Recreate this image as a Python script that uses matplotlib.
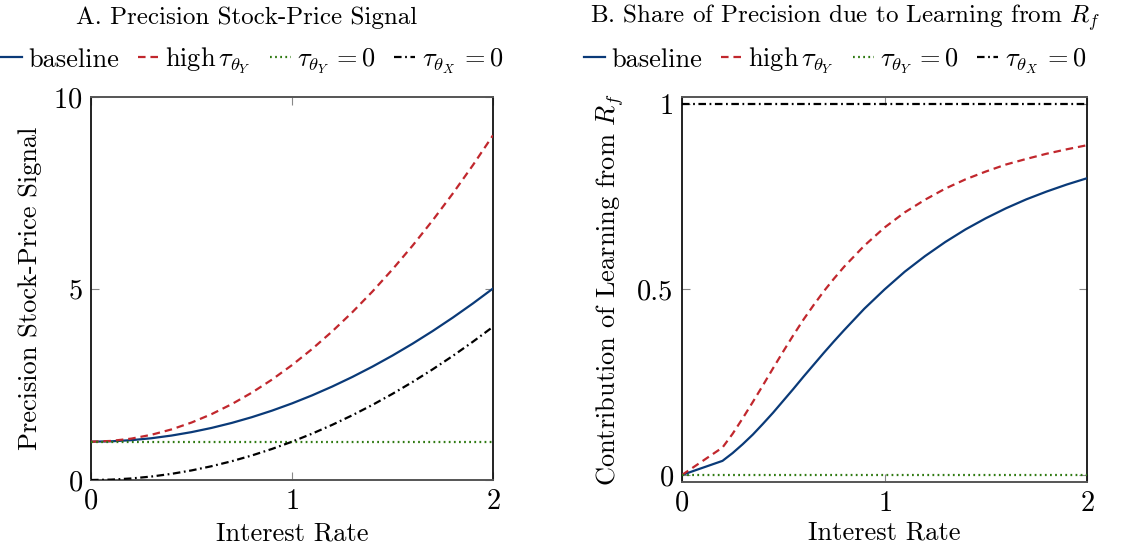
import matplotlib
matplotlib.use("Agg")
import matplotlib.pyplot as plt
from matplotlib.lines import Line2D

plt.rcParams["font.family"] = "serif"
plt.rcParams["font.serif"] = ["cmr10"]
plt.rcParams["mathtext.fontset"] = "cm"
plt.rcParams["axes.unicode_minus"] = False
plt.rcParams["axes.formatter.use_mathtext"] = True

# Interest rate grid (panel A)
rate = [0.0, 0.1, 0.2, 0.3, 0.4, 0.5, 0.6, 0.7, 0.8, 0.9, 1.0,
        1.1, 1.2, 1.3, 1.4, 1.5, 1.6, 1.7, 1.8, 1.9, 2.0]

# Panel A: precision of the stock-price signal
prec_baseline = [1.00, 1.01, 1.04, 1.09, 1.16, 1.25, 1.36, 1.49, 1.64, 1.81, 2.00,
                 2.21, 2.44, 2.69, 2.96, 3.25, 3.56, 3.89, 4.24, 4.61, 5.00]
prec_high_tY = [1.00, 1.02, 1.08, 1.18, 1.32, 1.50, 1.72, 1.98, 2.28, 2.62, 3.00,
                3.42, 3.88, 4.38, 4.92, 5.50, 6.12, 6.78, 7.48, 8.22, 9.00]
prec_tY0 = [1.00] * len(rate)
prec_tX0 = [0.00, 0.01, 0.04, 0.09, 0.16, 0.25, 0.36, 0.49, 0.64, 0.81, 1.00,
            1.21, 1.44, 1.69, 1.96, 2.25, 2.56, 2.89, 3.24, 3.61, 4.00]

# Interest rate grid (panel B), finer where the share bends
rate_b = [0.0, 0.1, 0.2, 0.25, 0.3, 0.35, 0.4, 0.45, 0.5, 0.55, 0.6, 0.65, 0.7, 0.75,
          0.8, 0.9, 1.0, 1.1, 1.2, 1.3, 1.4, 1.5, 1.6, 1.7, 1.8, 1.9, 2.0]

# Panel B: share of precision due to learning from R_f
share_baseline = [0.000, 0.019, 0.038, 0.059, 0.083, 0.109, 0.138, 0.168, 0.200, 0.232,
                  0.265, 0.297, 0.329, 0.360, 0.390, 0.448, 0.500, 0.548, 0.590, 0.628,
                  0.662, 0.692, 0.719, 0.743, 0.764, 0.783, 0.800]
share_high_tY = [0.000, 0.037, 0.074, 0.111, 0.153, 0.197, 0.242, 0.288, 0.333, 0.377,
                 0.419, 0.458, 0.495, 0.529, 0.561, 0.618, 0.667, 0.708, 0.742, 0.772,
                 0.797, 0.818, 0.837, 0.852, 0.866, 0.878, 0.889]
share_tY0 = [0.0] * len(rate_b)
share_tX0 = [1.0] * len(rate_b)

labels = ["baseline", r"high$\,\tau_{\theta_Y}$", r"$\tau_{\theta_Y}\,{=}0$", r"$\tau_{\theta_X}\,{=}0$"]

BLUE = "#0a3a78"
RED = "#c1272d"
GREEN = "#2f7a12"
BLACK = "#000000"
LW = 1.6
styles = [
    dict(color=BLUE, lw=LW, ls="-"),
    dict(color=RED, lw=LW, ls=(0, (3.4, 2.2))),
    dict(color=GREEN, lw=LW, ls=(0, (0.8, 1.5))),
    dict(color=BLACK, lw=LW, ls=(0, (3.4, 1.6, 0.8, 1.6))),
]

fig = plt.figure(figsize=(11.23, 5.46), dpi=100)
W, H = 1123, 546


def add_axes(l, r, t, b):
    return fig.add_axes([l / W, 1 - b / H, (r - l) / W, (b - t) / H])


axA = add_axes(91, 493, 97, 480)
axB = add_axes(682, 1087, 97, 482)

for s, y in zip(styles, [prec_baseline, prec_high_tY, prec_tY0, prec_tX0]):
    axA.plot(rate, y, **s, zorder=3)
for s, y in zip(styles, [share_baseline, share_high_tY, share_tY0, share_tX0]):
    axB.plot(rate_b, y, **s, zorder=3)

axA.set_xlim(0, 2)
axA.set_ylim(0, 10)
axA.set_xticks([0, 1, 2])
axA.set_yticks([0, 5, 10])
axA.set_ylabel("Precision Stock-Price Signal", fontsize=19, labelpad=8)
axA.set_xlabel("Interest Rate", fontsize=19, labelpad=5)

axB.set_xlim(0, 2)
axB.set_ylim(-0.019, 1.019)
axB.set_xticks([0, 1, 2])
axB.set_yticks([0, 0.5, 1])
axB.set_yticklabels(["0", "0.5", "1"])
axB.set_ylabel(r"Contribution of Learning from $R_f$", fontsize=19, labelpad=8)
axB.set_xlabel("Interest Rate", fontsize=19, labelpad=3)

for ax in (axA, axB):
    ax.tick_params(direction="in", length=6, width=0.8, color="#888888",
                   labelsize=20.5, top=True, right=True, pad=6)
    for side in ("left", "right"):
        ax.spines[side].set_color("#111111")
        ax.spines[side].set_linewidth(1.3)
    for side in ("top", "bottom"):
        ax.spines[side].set_color("#555555")
        ax.spines[side].set_linewidth(1.4)

fig.text(247 / W, 1 - 18 / H, "A. Precision Stock-Price Signal",
         ha="center", va="center", fontsize=18)
fig.text(845 / W, 1 - 18 / H, r"B. Share of Precision due to Learning from $R_f$",
         ha="center", va="center", fontsize=18)

handles = [Line2D([], [], **s) for s in styles]
for cx in (252, 835):
    fig.legend(handles, labels, loc="center", bbox_to_anchor=(cx / W, 1 - 61 / H),
               ncol=4, frameon=False, fontsize=19, handlelength=0.8,
               handletextpad=0.25, columnspacing=0.7, borderaxespad=0)

fig.savefig("out.png", dpi=100)
